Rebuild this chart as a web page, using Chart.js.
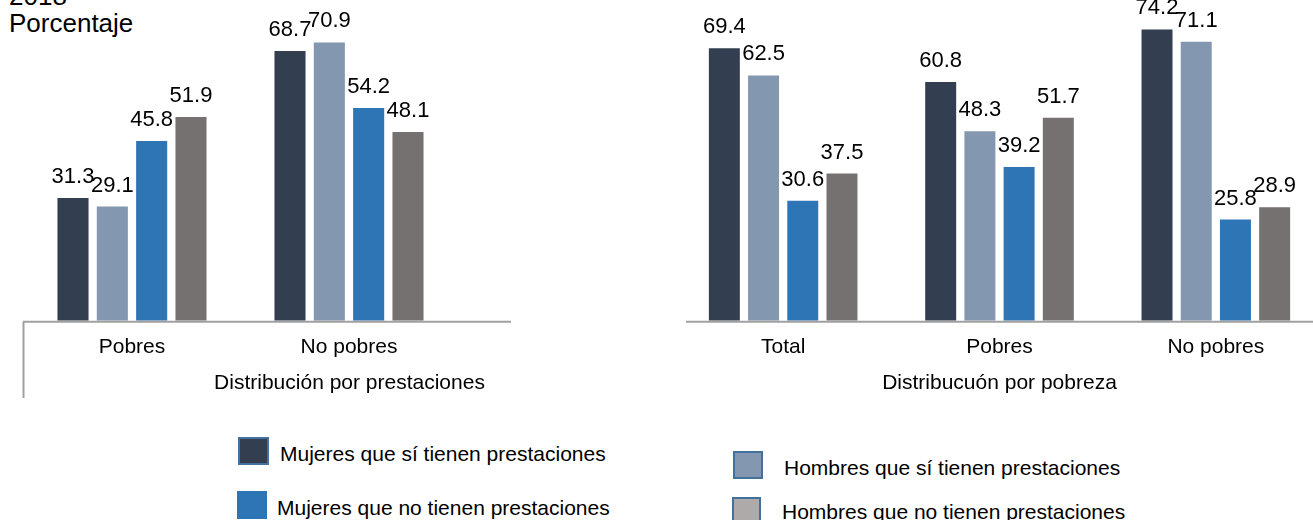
<!DOCTYPE html>
<html>
<head>
<meta charset="utf-8">
<script src="https://cdn.jsdelivr.net/npm/chart.js@4/dist/chart.umd.min.js"></script>
<style>
  body { margin: 0; background: #fff; }
  #wrap { position: relative; width: 1313px; height: 520px; overflow: hidden; font-family: "Liberation Sans", Arial, sans-serif; color: #000; }
  #left { position: absolute; left: 0; top: 0; }
  #right { position: absolute; left: 675px; top: 0; }
  .txt { position: absolute; white-space: nowrap; }
  .sq { position: absolute; box-sizing: border-box; }
  .leg { position: absolute; font-size: 21px; line-height: 24px; white-space: nowrap; }
</style>
</head>
<body>
<div id="wrap">
  <div class="txt" style="left:9px; top:-17px; font-size:26px; line-height:26px;">2018</div>
  <div class="txt" style="left:9px; top:10px; font-size:26px; line-height:26px;">Porcentaje</div>
  <canvas id="left" width="512" height="400"></canvas>
  <canvas id="right" width="649" height="400"></canvas>

  <div class="sq" style="left:238px; top:437px; width:31px; height:28px; background:#333f50; border:2px solid #41719c;"></div>
  <div class="leg" style="left:280px; top:442px;">Mujeres que sí tienen prestaciones</div>
  <div class="sq" style="left:237px; top:491px; width:30px; height:28px; background:#2e75b6;"></div>
  <div class="leg" style="left:277px; top:496px;">Mujeres que no tienen prestaciones</div>
  <div class="sq" style="left:733px; top:451px; width:30px; height:28px; background:#8497b0; border:2px solid #41719c;"></div>
  <div class="leg" style="left:784px; top:456px;">Hombres que sí tienen prestaciones</div>
  <div class="sq" style="left:732px; top:497px; width:29px; height:28px; background:#aeaaaa; border:2px solid #41719c;"></div>
  <div class="leg" style="left:782px; top:500px;">Hombres que no tienen prestaciones</div>
</div>
<script>
// categorias
const catsPrestaciones = ["Pobres", "No pobres"];
const catsPobreza = ["Total", "Pobres", "No pobres"];
const seriesNames = [
  "Mujeres que sí tienen prestaciones",
  "Hombres que sí tienen prestaciones",
  "Mujeres que no tienen prestaciones",
  "Hombres que no tienen prestaciones",
];

// distribucion por prestaciones
const mujeresSiPrest = [31.3, 68.7];
const hombresSiPrest = [29.1, 70.9];
const mujeresNoPrest = [45.8, 54.2];
const hombresNoPrest = [51.9, 48.1];

// distribucion por pobreza
const mujeresSiPob = [69.4, 60.8, 74.2];
const hombresSiPob = [62.5, 48.3, 71.1];
const mujeresNoPob = [30.6, 39.2, 25.8];
const hombresNoPob = [37.5, 51.7, 28.9];

const colors = ["#333f50", "#8497b0", "#2e75b6", "#767171"];
const FONT = "'Liberation Sans', Arial, sans-serif";

const valueLabels = {
  id: "valueLabels",
  afterDatasetsDraw(chart) {
    const ctx = chart.ctx;
    ctx.save();
    ctx.font = "22px " + FONT;
    ctx.fillStyle = "#000";
    ctx.textAlign = "center";
    ctx.textBaseline = "alphabetic";
    chart.data.datasets.forEach((ds, i) => {
      chart.getDatasetMeta(i).data.forEach((bar, j) => {
        ctx.fillText(ds.data[j].toFixed(1), bar.x, bar.y - 15);
      });
    });
    ctx.restore();
  },
};

// linea del eje, tick de la izquierda y titulo del eje
const axisLine = {
  id: "axisLine",
  afterDraw(chart, args, opts) {
    const ctx = chart.ctx;
    const y = chart.chartArea.bottom + 1;
    ctx.save();
    ctx.strokeStyle = "#a0a0a0";
    ctx.lineWidth = 2;
    ctx.beginPath();
    ctx.moveTo(opts.from, y);
    ctx.lineTo(opts.to, y);
    if (opts.tick) {
      ctx.moveTo(opts.from + 0.5, y);
      ctx.lineTo(opts.from + 0.5, opts.tickEnd);
    }
    ctx.stroke();
    ctx.font = "21px " + FONT;
    ctx.fillStyle = "#000";
    ctx.textAlign = "center";
    ctx.textBaseline = "middle";
    ctx.fillText(opts.title, opts.titleX, opts.titleY);
    ctx.restore();
  },
};

function makeDatasets(a, b, c, d) {
  return [a, b, c, d].map((data, i) => ({
    label: seriesNames[i],
    data: data,
    backgroundColor: colors[i],
    categoryPercentage: 0.725,
    barPercentage: 0.79,
  }));
}

function makeOptions(pad, line) {
  return {
    responsive: false,
    animation: false,
    layout: { padding: pad },
    plugins: {
      legend: { display: false },
      tooltip: { enabled: false },
      axisLine: line,
    },
    scales: {
      x: {
        grid: { display: false, drawTicks: false },
        border: { display: false },
        ticks: { color: "#000", font: { family: FONT, size: 21 }, padding: 14 },
      },
      y: { display: false, min: 0, max: 80 },
    },
  };
}

new Chart(document.getElementById("left"), {
  type: "bar",
  data: {
    labels: catsPrestaciones,
    datasets: makeDatasets(mujeresSiPrest, hombresSiPrest, mujeresNoPrest, hombresNoPrest),
  },
  options: makeOptions({ left: 23.5, right: 54.5, top: 6.7, bottom: 26 },
    { from: 23, to: 511, tick: true, tickEnd: 398, title: "Distribución por prestaciones", titleX: 349.5, titleY: 383 }),
  plugins: [valueLabels, axisLine],
});

new Chart(document.getElementById("right"), {
  type: "bar",
  data: {
    labels: catsPobreza,
    datasets: makeDatasets(mujeresSiPob, hombresSiPob, mujeresNoPob, hombresNoPob),
  },
  options: makeOptions({ left: 0, right: 0, top: 6.7, bottom: 26 },
    { from: 11, to: 649, tick: false, title: "Distribucuón por pobreza", titleX: 324.5, titleY: 383 }),
  plugins: [valueLabels, axisLine],
});
</script>
</body>
</html>
